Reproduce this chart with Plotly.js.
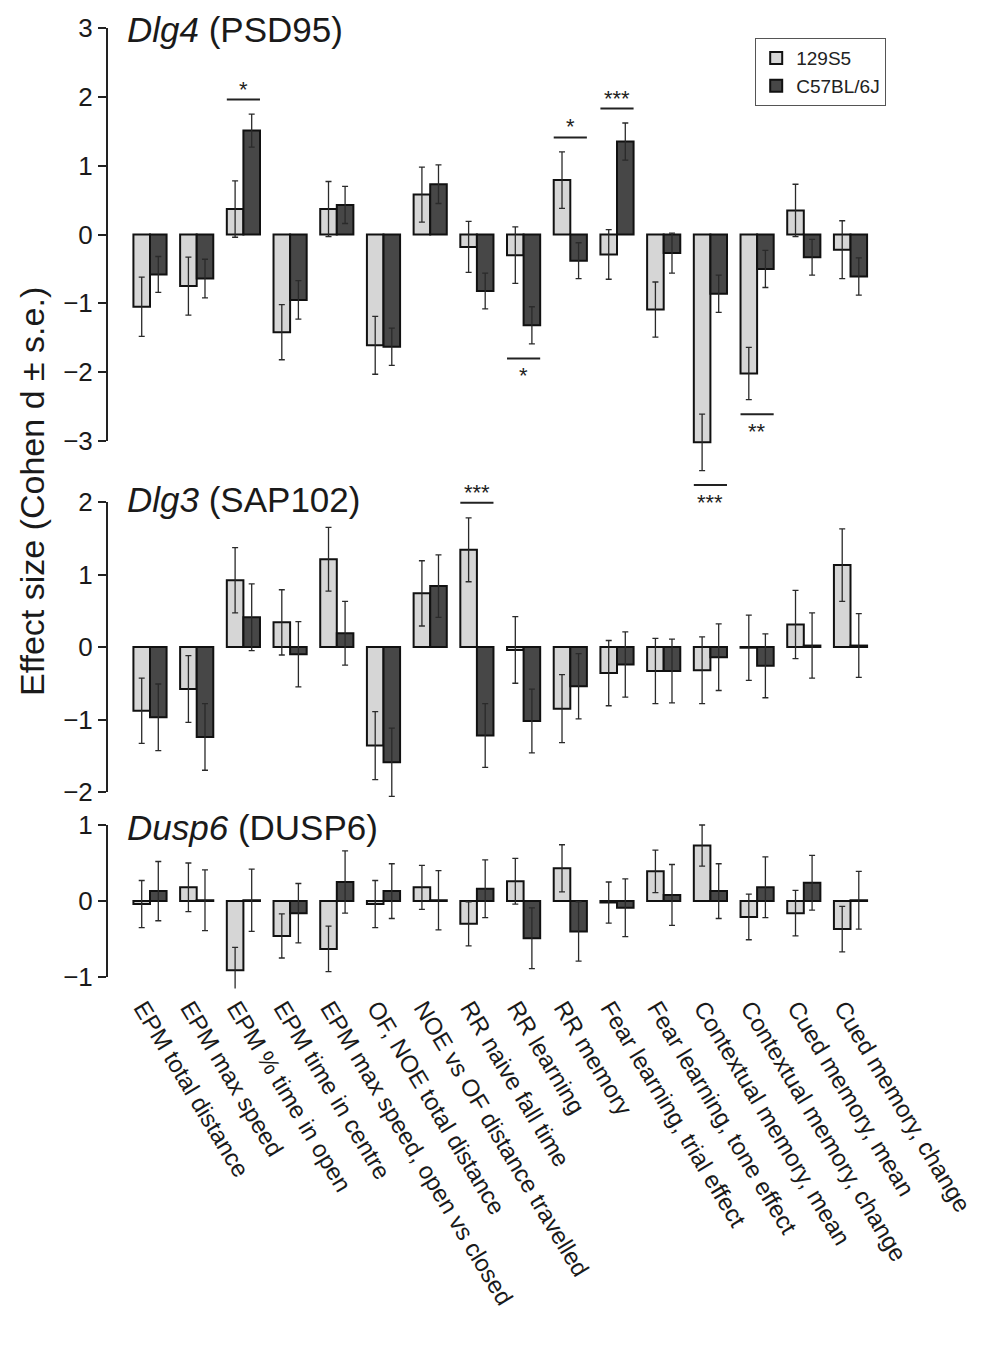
<!DOCTYPE html>
<html><head><meta charset="utf-8">
<script src="https://cdn.plot.ly/plotly-3.0.1.min.js"></script>
<style>html,body{margin:0;padding:0;background:#fff}#chart{width:982px;height:1345px}</style>
</head><body><div id="chart"></div>
<script>
// ---------- DATA ----------
const categories = ["EPM total distance","EPM max speed","EPM % time in open","EPM time in centre","EPM max speed, open vs closed","OF, NOE total distance","NOE vs OF distance travelled","RR naive fall time","RR learning","RR memory","Fear learning, trial effect","Fear learning, tone effect","Contextual memory, mean","Contextual memory, change","Cued memory, mean","Cued memory, change"];
const strains = ["129S5", "C57BL/6J"];

const dlg4_129 = [-1.05,-0.75,0.37,-1.42,0.37,-1.61,0.58,-0.18,-0.30,0.79,-0.29,-1.09,-3.02,-2.02,0.35,-0.22];
const dlg4_129_se = [0.43,0.42,0.41,0.40,0.40,0.42,0.40,0.37,0.41,0.41,0.36,0.40,0.41,0.38,0.38,0.42];
const dlg4_b6 = [-0.58,-0.64,1.51,-0.95,0.43,-1.63,0.73,-0.82,-1.32,-0.38,1.35,-0.27,-0.86,-0.50,-0.33,-0.61];
const dlg4_b6_se = [0.26,0.28,0.24,0.28,0.27,0.27,0.28,0.26,0.27,0.26,0.27,0.29,0.27,0.27,0.26,0.27];

const dlg3_129 = [-0.88,-0.58,0.92,0.34,1.21,-1.36,0.74,1.34,-0.04,-0.85,-0.36,-0.33,-0.32,-0.01,0.31,1.13];
const dlg3_129_se = [0.45,0.46,0.45,0.45,0.44,0.47,0.45,0.44,0.46,0.47,0.45,0.45,0.46,0.45,0.47,0.50];
const dlg3_b6 = [-0.97,-1.24,0.41,-0.10,0.19,-1.59,0.84,-1.22,-1.02,-0.54,-0.24,-0.33,-0.14,-0.26,0.02,0.02];
const dlg3_b6_se = [0.46,0.46,0.46,0.45,0.44,0.47,0.43,0.44,0.44,0.45,0.45,0.44,0.46,0.44,0.45,0.44];

const dusp6_129 = [-0.04,0.18,-0.91,-0.46,-0.63,-0.04,0.18,-0.30,0.26,0.43,-0.02,0.39,0.73,-0.21,-0.16,-0.37];
const dusp6_129_se = [0.31,0.32,0.30,0.29,0.30,0.31,0.29,0.29,0.30,0.31,0.27,0.28,0.27,0.30,0.30,0.30];
const dusp6_b6 = [0.13,0.01,0.01,-0.16,0.25,0.13,0.01,0.16,-0.49,-0.40,-0.09,0.08,0.13,0.18,0.24,0.01];
const dusp6_b6_se = [0.39,0.40,0.41,0.39,0.41,0.36,0.39,0.38,0.40,0.39,0.38,0.40,0.36,0.40,0.36,0.38];

const panelTitles = ["<i>Dlg4</i> (PSD95)", "<i>Dlg3</i> (SAP102)", "<i>Dusp6</i> (DUSP6)"];
const yTicksDlg4 = [-3,-2,-1,0,1,2,3];
const yTicksDlg3 = [-2,-1,0,1,2];
const yTicksDusp6 = [-1,0,1];

const sigDlg4Cats = [2, 8, 9, 10, 12, 13];
const sigDlg4Labels = ["*", "*", "*", "***", "***", "**"];
const sigDlg4Side = ["up", "down", "up", "up", "down", "down"];
const sigDlg3Cats = [7];
const sigDlg3Labels = ["***"];
const sigDlg3Side = ["up"];
const yTitle = "Effect size (Cohen d ± s.e.)";

// ---------- LAYOUT CONSTANTS ----------
const FIG_W = 982, FIG_H = 1345, ML = 107, MR = 89;
const PW = FIG_W - ML - MR;
const px = p => (p - ML) / PW;
const py = p => 1 - p / FIG_H;
const FONT = "Liberation Sans, Arial, Helvetica, sans-serif";
const LIGHT = "#d6d6d6", DARK = "#474747", EDGE = "#111";
const BARGAP = 0.29;
const halfGroup = (1 - BARGAP) / 2;

const panels = [
  {ya: "y",  xa: "x",  range: [-3.8, 3.2], top: 28 - 0.2*68.83, bottom: 441 + 0.8*68.83, ticks: yTicksDlg4,
   d129: dlg4_129, s129: dlg4_129_se, db6: dlg4_b6, sb6: dlg4_b6_se,
   sigC: sigDlg4Cats, sigL: sigDlg4Labels, sigS: sigDlg4Side, titleY: 29},
  {ya: "y2", xa: "x2", range: [-2.15, 2.05], top: 647 - 2.05*72.5, bottom: 647 + 2.15*72.5, ticks: yTicksDlg3,
   d129: dlg3_129, s129: dlg3_129_se, db6: dlg3_b6, sb6: dlg3_b6_se,
   sigC: sigDlg3Cats, sigL: sigDlg3Labels, sigS: sigDlg3Side, titleY: 500},
  {ya: "y3", xa: "x3", range: [-1.15, 1.1], top: 901 - 1.1*76, bottom: 901 + 1.15*76, ticks: yTicksDusp6,
   d129: dusp6_129, s129: dusp6_129_se, db6: dusp6_b6, sb6: dusp6_b6_se,
   sigC: [], sigL: [], sigS: [], titleY: 827}
];

const xIdx = categories.map((c, i) => i);
const traces = [];
const shapes = [];
const annotations = [];
const layout = {
  width: FIG_W, height: FIG_H,
  margin: {l: ML, r: MR, t: 0, b: 0, autoexpand: false},
  paper_bgcolor: "#fff", plot_bgcolor: "#fff",
  font: {family: FONT, color: "#1a1a1a"},
  barmode: "group", bargap: BARGAP, bargroupgap: 0,
  showlegend: true,
  legend: {x: px(755), y: py(38), xanchor: "left", yanchor: "top",
           bgcolor: "#fff", bordercolor: "#555", borderwidth: 1.2,
           font: {size: 19, family: FONT, color: "#222"}, tracegroupgap: 0,
           itemwidth: 30},
  shapes: shapes, annotations: annotations
};

panels.forEach((p, k) => {
  const n = k === 0 ? "" : String(k + 1);
  const errStyle = {type: "data", thickness: 1.3, width: 3, color: "#2a2a2a"};
  traces.push({type: "bar", x: xIdx, y: p.d129, name: strains[0], legendgroup: "a",
    showlegend: k === 0, xaxis: p.xa, yaxis: p.ya,
    marker: {color: LIGHT, line: {color: EDGE, width: 2}},
    error_y: Object.assign({array: p.s129}, errStyle), hoverinfo: "skip"});
  traces.push({type: "bar", x: xIdx, y: p.db6, name: strains[1], legendgroup: "b",
    showlegend: k === 0, xaxis: p.xa, yaxis: p.ya,
    marker: {color: DARK, line: {color: EDGE, width: 2}},
    error_y: Object.assign({array: p.sb6}, errStyle), hoverinfo: "skip"});

  layout["xaxis" + n] = {
    domain: [0, 1], anchor: p.ya, range: [-(150 - ML) / 46.7, -(150 - ML) / 46.7 + PW / 46.7],
    showgrid: false, zeroline: false, showline: false, ticks: "",
    showticklabels: k === 2, automargin: false, ticklabeloverflow: "allow",
    ticklabelshift: -7,
    tickmode: "array", tickvals: xIdx, ticktext: categories,
    tickangle: 59, tickfont: {size: 24, family: FONT, color: "#1a1a1a"}
  };
  layout["yaxis" + n] = {
    domain: [py(p.bottom), py(p.top)], anchor: p.xa, range: p.range,
    showgrid: false, zeroline: false, showline: false,
    ticks: "outside", ticklen: 8, tickwidth: 2, tickcolor: "#222",
    tickmode: "array", tickvals: p.ticks,
    tickfont: {size: 26, family: FONT, color: "#1a1a1a"}, automargin: false
  };
  shapes.push({type: "line", xref: "paper", yref: p.ya, x0: 0, x1: 0,
    y0: Math.min(...p.ticks), y1: Math.max(...p.ticks), line: {color: "#222", width: 2}});
  annotations.push({xref: "paper", yref: "paper", x: px(125), y: py(p.titleY),
    xanchor: "left", yanchor: "middle", showarrow: false, text: panelTitles[k],
    font: {size: 35, family: FONT, color: "#1a1a1a"}});
  p.sigC.forEach((c, j) => {
    const hi = Math.max(p.d129[c] + p.s129[c], p.db6[c] + p.sb6[c], 0);
    const lo = Math.min(p.d129[c] - p.s129[c], p.db6[c] - p.sb6[c], 0);
    const up = p.sigS[j] === "up";
    const yl = up ? hi + 0.21 : lo - 0.21;
    shapes.push({type: "line", xref: p.xa, yref: p.ya, x0: c - halfGroup, x1: c + halfGroup,
      y0: yl, y1: yl, line: {color: "#222", width: 2}});
    annotations.push({xref: p.xa, yref: p.ya, x: c, y: yl, showarrow: false,
      text: p.sigL[j], yanchor: up ? "bottom" : "top", yshift: up ? -4 : -3,
      font: {size: 22, family: FONT, color: "#222"}});
  });
});

annotations.push({xref: "paper", yref: "paper", x: px(32), y: py(492),
  xanchor: "center", yanchor: "middle", textangle: -90, showarrow: false,
  text: yTitle, font: {size: 34, family: FONT, color: "#1a1a1a"}});

Plotly.newPlot("chart", traces, layout, {staticPlot: true});
</script>
</body></html>
